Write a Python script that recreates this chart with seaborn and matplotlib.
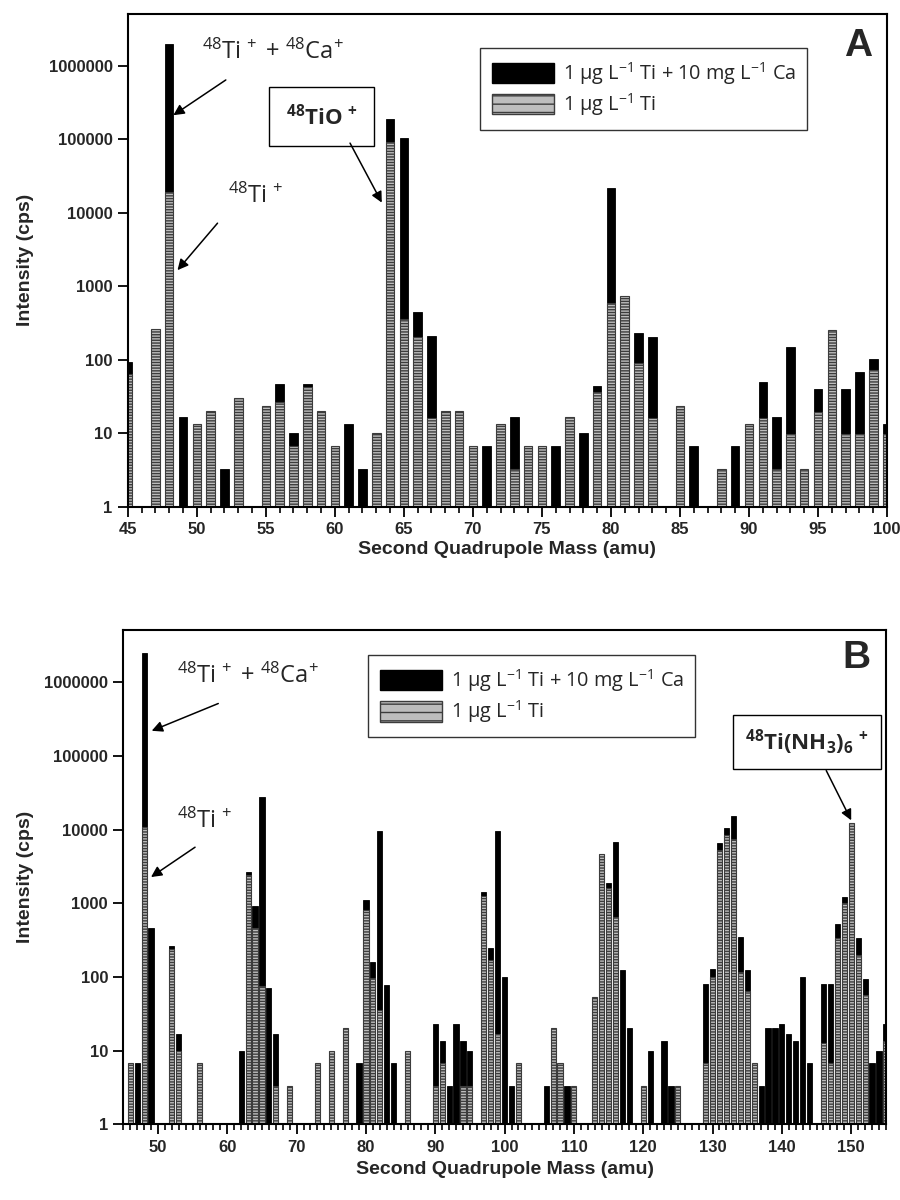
import numpy as np
import pandas as pd
import matplotlib
matplotlib.use("Agg")
import matplotlib.pyplot as plt
import seaborn as sns
from matplotlib.patches import Patch
from matplotlib.ticker import MultipleLocator, NullLocator, FixedLocator, FixedFormatter

# ---------------------------------------------------------------- data
# Panel A: second quadrupole mass scan 45-100 amu
masses_a = list(range(45, 101))
ti_ca_a = [94, 0, 0, 2.0e6, 16.7, 0, 0, 3.3, 0, 0,
           0, 46.7, 10, 46.7, 0, 0, 13.3, 3.3, 0, 187000,
           104000, 447, 210, 0, 0, 0, 6.7, 0, 16.7, 0,
           0, 6.7, 0, 10, 43.3, 21600, 0, 230, 207, 0,
           0, 6.7, 0, 0, 6.7, 0, 50, 16.7, 148, 0,
           40, 0, 40, 69, 102, 13.3]
ti_a = [65, 0, 266, 19000, 0, 13.3, 20, 0, 30, 0,
        23.3, 26.7, 6.7, 42, 20, 6.7, 0, 0, 10, 91000,
        355, 207, 16.3, 20, 20, 6.7, 0, 13.3, 3.3, 6.7,
        6.7, 0, 16.7, 0, 36.7, 600, 740, 90, 16.3, 0,
        23.3, 0, 0, 3.3, 0, 13.3, 16.3, 3.3, 9.7, 3.3,
        19.6, 254, 9.7, 9.7, 73, 9.7]

# Panel B: second quadrupole mass scan 45-155 amu
masses_b = list(range(45, 156))
ti_ca_b = [0, 0, 6.7, 2.47e6, 465, 0, 0, 265, 16.7, 0,   # 45-54
           0, 0, 0, 0, 0, 0, 0, 10, 2660, 910,          # 55-64
           27600, 70, 16.7, 0, 0, 0, 0, 0, 0, 0,        # 65-74
           0, 0, 0, 0, 6.7, 1100, 160, 9560, 77, 6.7,   # 75-84
           0, 0, 0, 0, 0, 23.3, 13.3, 3.3, 23.3, 13.3,  # 85-94
           10, 0, 1400, 250, 9560, 100, 3.3, 0, 0, 0,   # 95-104
           0, 3.3, 0, 0, 3.3, 0, 0, 0, 0, 0,            # 105-114
           1890, 6740, 123, 20, 0, 0, 10, 0, 13.3, 3.3, # 115-124
           0, 0, 0, 0, 81, 130, 6600, 10650, 15200, 350,  # 125-134
           126, 0, 3.3, 20, 20, 23.3, 16.7, 13.3, 100, 6.7,  # 135-144
           0, 81, 81, 530, 1200, 0, 333, 93, 6.7, 10,   # 145-154
           23.3]                                        # 155
ti_b = [0, 6.7, 0, 10800, 0, 0, 0, 236, 10, 0,          # 45-54
        0, 6.7, 0, 0, 0, 0, 0, 0, 2400, 465,            # 55-64
        75, 0, 3.3, 0, 3.3, 0, 0, 0, 6.7, 0,            # 65-74
        10, 0, 20, 0, 0, 800, 97, 35, 0, 0,             # 75-84
        0, 10, 0, 0, 0, 3.3, 6.7, 0, 0, 3.3,            # 85-94
        3.3, 0, 1245, 169, 16.7, 0, 0, 6.7, 0, 0,       # 95-104
        0, 0, 20, 6.7, 0, 3.3, 0, 0, 54, 4700,          # 105-114
        1630, 645, 0, 0, 0, 3.3, 0, 0, 0, 0,            # 115-124
        3.3, 0, 0, 0, 6.7, 100, 5240, 8400, 7500, 117,  # 125-134
        65, 6.7, 0, 0, 0, 0, 0, 0, 0, 0,                # 135-144
        0, 12.8, 6.7, 340, 1000, 12400, 200, 56, 0, 0,  # 145-154
        13.3]                                           # 155

decades = [1, 10, 100, 1000, 10000, 100000, 1000000]
decade_labels = ["1", "10", "100", "1000", "10000", "100000", "1000000"]

label_ca = r"1 µg L$^{-1}$ Ti + 10 mg L$^{-1}$ Ca"
label_ti = r"1 µg L$^{-1}$ Ti"

# ---------------------------------------------------------------- style
sns.set_theme(style="ticks")
plt.rcParams["font.family"] = ["Liberation Sans", "DejaVu Sans"]
plt.rcParams["mathtext.fontset"] = "custom"
plt.rcParams["mathtext.rm"] = "Open Sans"
plt.rcParams["mathtext.it"] = "Open Sans:italic"
plt.rcParams["mathtext.bf"] = "Open Sans:bold"
plt.rcParams["hatch.linewidth"] = 1.0
plt.rcParams["axes.edgecolor"] = "black"

BLACK = "black"
GRAY = "#bdbdbd"
GRAY_EDGE = "#3c3c3c"
ANN_FONT = ["Open Sans", "DejaVu Sans"]


def draw_panel(ax, masses, ti_ca, ti, width, xlim, major):
    df = pd.DataFrame({"mass": masses, "ti_ca": ti_ca, "ti": ti})
    ax.set_yscale("log")
    sns.barplot(data=df[df["ti_ca"] > 0], x="mass", y="ti_ca", native_scale=True,
                width=width, color=BLACK, saturation=1, errorbar=None,
                edgecolor=BLACK, linewidth=0.6, ax=ax)
    sns.barplot(data=df[df["ti"] > 0], x="mass", y="ti", native_scale=True,
                width=width, color=GRAY, saturation=1, errorbar=None,
                edgecolor=GRAY_EDGE, linewidth=0.8, hatch="------", ax=ax)
    ax.set_xlim(*xlim)
    ax.set_ylim(1, 5.1e6)
    ax.yaxis.set_major_locator(FixedLocator(decades))
    ax.yaxis.set_major_formatter(FixedFormatter(decade_labels))
    ax.yaxis.set_minor_locator(NullLocator())
    ax.xaxis.set_major_locator(MultipleLocator(major))
    ax.xaxis.set_minor_locator(MultipleLocator(1))
    ax.xaxis.set_major_formatter(matplotlib.ticker.FormatStrFormatter("%d"))
    ax.tick_params(which="major", direction="out", length=7, width=1.3,
                   labelsize=12, color="black", pad=4)
    ax.tick_params(which="minor", direction="out", length=4, width=1.2, color="black")
    for lab in ax.get_xticklabels() + ax.get_yticklabels():
        lab.set_fontweight("bold")
    for sp in ax.spines.values():
        sp.set_linewidth(1.5)
        sp.set_color("black")
    ax.set_xlabel("Second Quadrupole Mass (amu)", fontsize=14, fontweight="bold")
    ax.set_ylabel("Intensity (cps)", fontsize=14, fontweight="bold")
    handles = [Patch(facecolor=BLACK, edgecolor=BLACK, label=label_ca),
               Patch(facecolor=GRAY, edgecolor=GRAY_EDGE, hatch="--", label=label_ti)]
    return handles


def add_legend(ax, handles, anchor):
    leg = ax.legend(handles=handles, loc="upper left", bbox_to_anchor=anchor,
                    borderaxespad=0, frameon=True, fancybox=False, edgecolor="black",
                    prop={"family": ANN_FONT, "size": 14.3}, handlelength=3.1,
                    handleheight=1.2, handletextpad=0.45, borderpad=0.6,
                    labelspacing=0.22)
    leg.get_frame().set_linewidth(1.0)
    return leg


fig = plt.figure(figsize=(9, 12), dpi=100)
ax_a = fig.add_axes([0.142, 0.5778, 0.8436, 0.4105])
ax_b = fig.add_axes([0.137, 0.0631, 0.8473, 0.4119])

arrow = dict(arrowstyle="-|>", color="black", lw=1.1, mutation_scale=16,
             shrinkA=0, shrinkB=0)

# ---------------- panel A
h = draw_panel(ax_a, masses_a, ti_ca_a, ti_a, 0.62, (45, 100), 5)
ax_a.xaxis.set_label_coords(0.5, -0.07)
ax_a.yaxis.set_label_coords(-0.123, 0.5)
add_legend(ax_a, h, (0.464, 0.931))
ax_a.text(0.962, 0.935, "A", transform=ax_a.transAxes, ha="center", va="center",
          fontsize=28, fontweight="bold")
ax_a.text(0.098, 0.923, r"$^{48}$Ti$^{\,+}$ + $^{48}$Ca$^{+}$", transform=ax_a.transAxes,
          ha="left", va="center", fontsize=17, family=ANN_FONT)
ax_a.annotate("", xy=(48.3, 10 ** 5.33), xytext=(52.1, 10 ** 5.81), arrowprops=arrow)
ax_a.text(0.168, 0.630, r"$^{48}$Ti$^{\,+}$", transform=ax_a.transAxes,
          ha="center", va="center", fontsize=17, family=ANN_FONT)
ax_a.annotate("", xy=(48.6, 10 ** 3.22), xytext=(51.5, 10 ** 3.86), arrowprops=arrow)
ax_a.text(0.255, 0.792, r"$\mathbf{^{48}TiO^{\,+}}$", transform=ax_a.transAxes,
          ha="center", va="center", fontsize=16, family=ANN_FONT,
          bbox=dict(boxstyle="square,pad=0.75", facecolor="white", edgecolor="black", lw=1.0))
ax_a.annotate("", xy=(63.4, 10 ** 4.14), xytext=(61.1, 10 ** 4.95), arrowprops=arrow)

# ---------------- panel B
h = draw_panel(ax_b, masses_b, ti_ca_b, ti_b, 0.74, (45, 155), 10)
ax_b.xaxis.set_label_coords(0.5, -0.075)
ax_b.yaxis.set_label_coords(-0.117, 0.5)
add_legend(ax_b, h, (0.321, 0.949))
ax_b.text(0.961, 0.944, "B", transform=ax_b.transAxes, ha="center", va="center",
          fontsize=28, fontweight="bold")
ax_b.text(0.0704, 0.907, r"$^{48}$Ti$^{\,+}$ + $^{48}$Ca$^{+}$", transform=ax_b.transAxes,
          ha="left", va="center", fontsize=17, family=ANN_FONT)
ax_b.annotate("", xy=(49.1, 10 ** 5.34), xytext=(58.7, 10 ** 5.71), arrowprops=arrow)
ax_b.text(0.107, 0.6126, r"$^{48}$Ti$^{\,+}$", transform=ax_b.transAxes,
          ha="center", va="center", fontsize=17, family=ANN_FONT)
ax_b.annotate("", xy=(49.0, 10 ** 3.355), xytext=(55.35, 10 ** 3.76), arrowprops=arrow)
ax_b.text(0.8964, 0.7735, r"$\mathbf{^{48}Ti(NH_3)_6{}^{\,+}}$", transform=ax_b.transAxes,
          ha="center", va="center", fontsize=16, family=ANN_FONT,
          bbox=dict(boxstyle="square,pad=0.55", facecolor="white", edgecolor="black", lw=1.0))
ax_b.annotate("", xy=(150.0, 10 ** 4.125), xytext=(146.4, 10 ** 4.80), arrowprops=arrow)

fig.savefig("out.png", dpi=100)
